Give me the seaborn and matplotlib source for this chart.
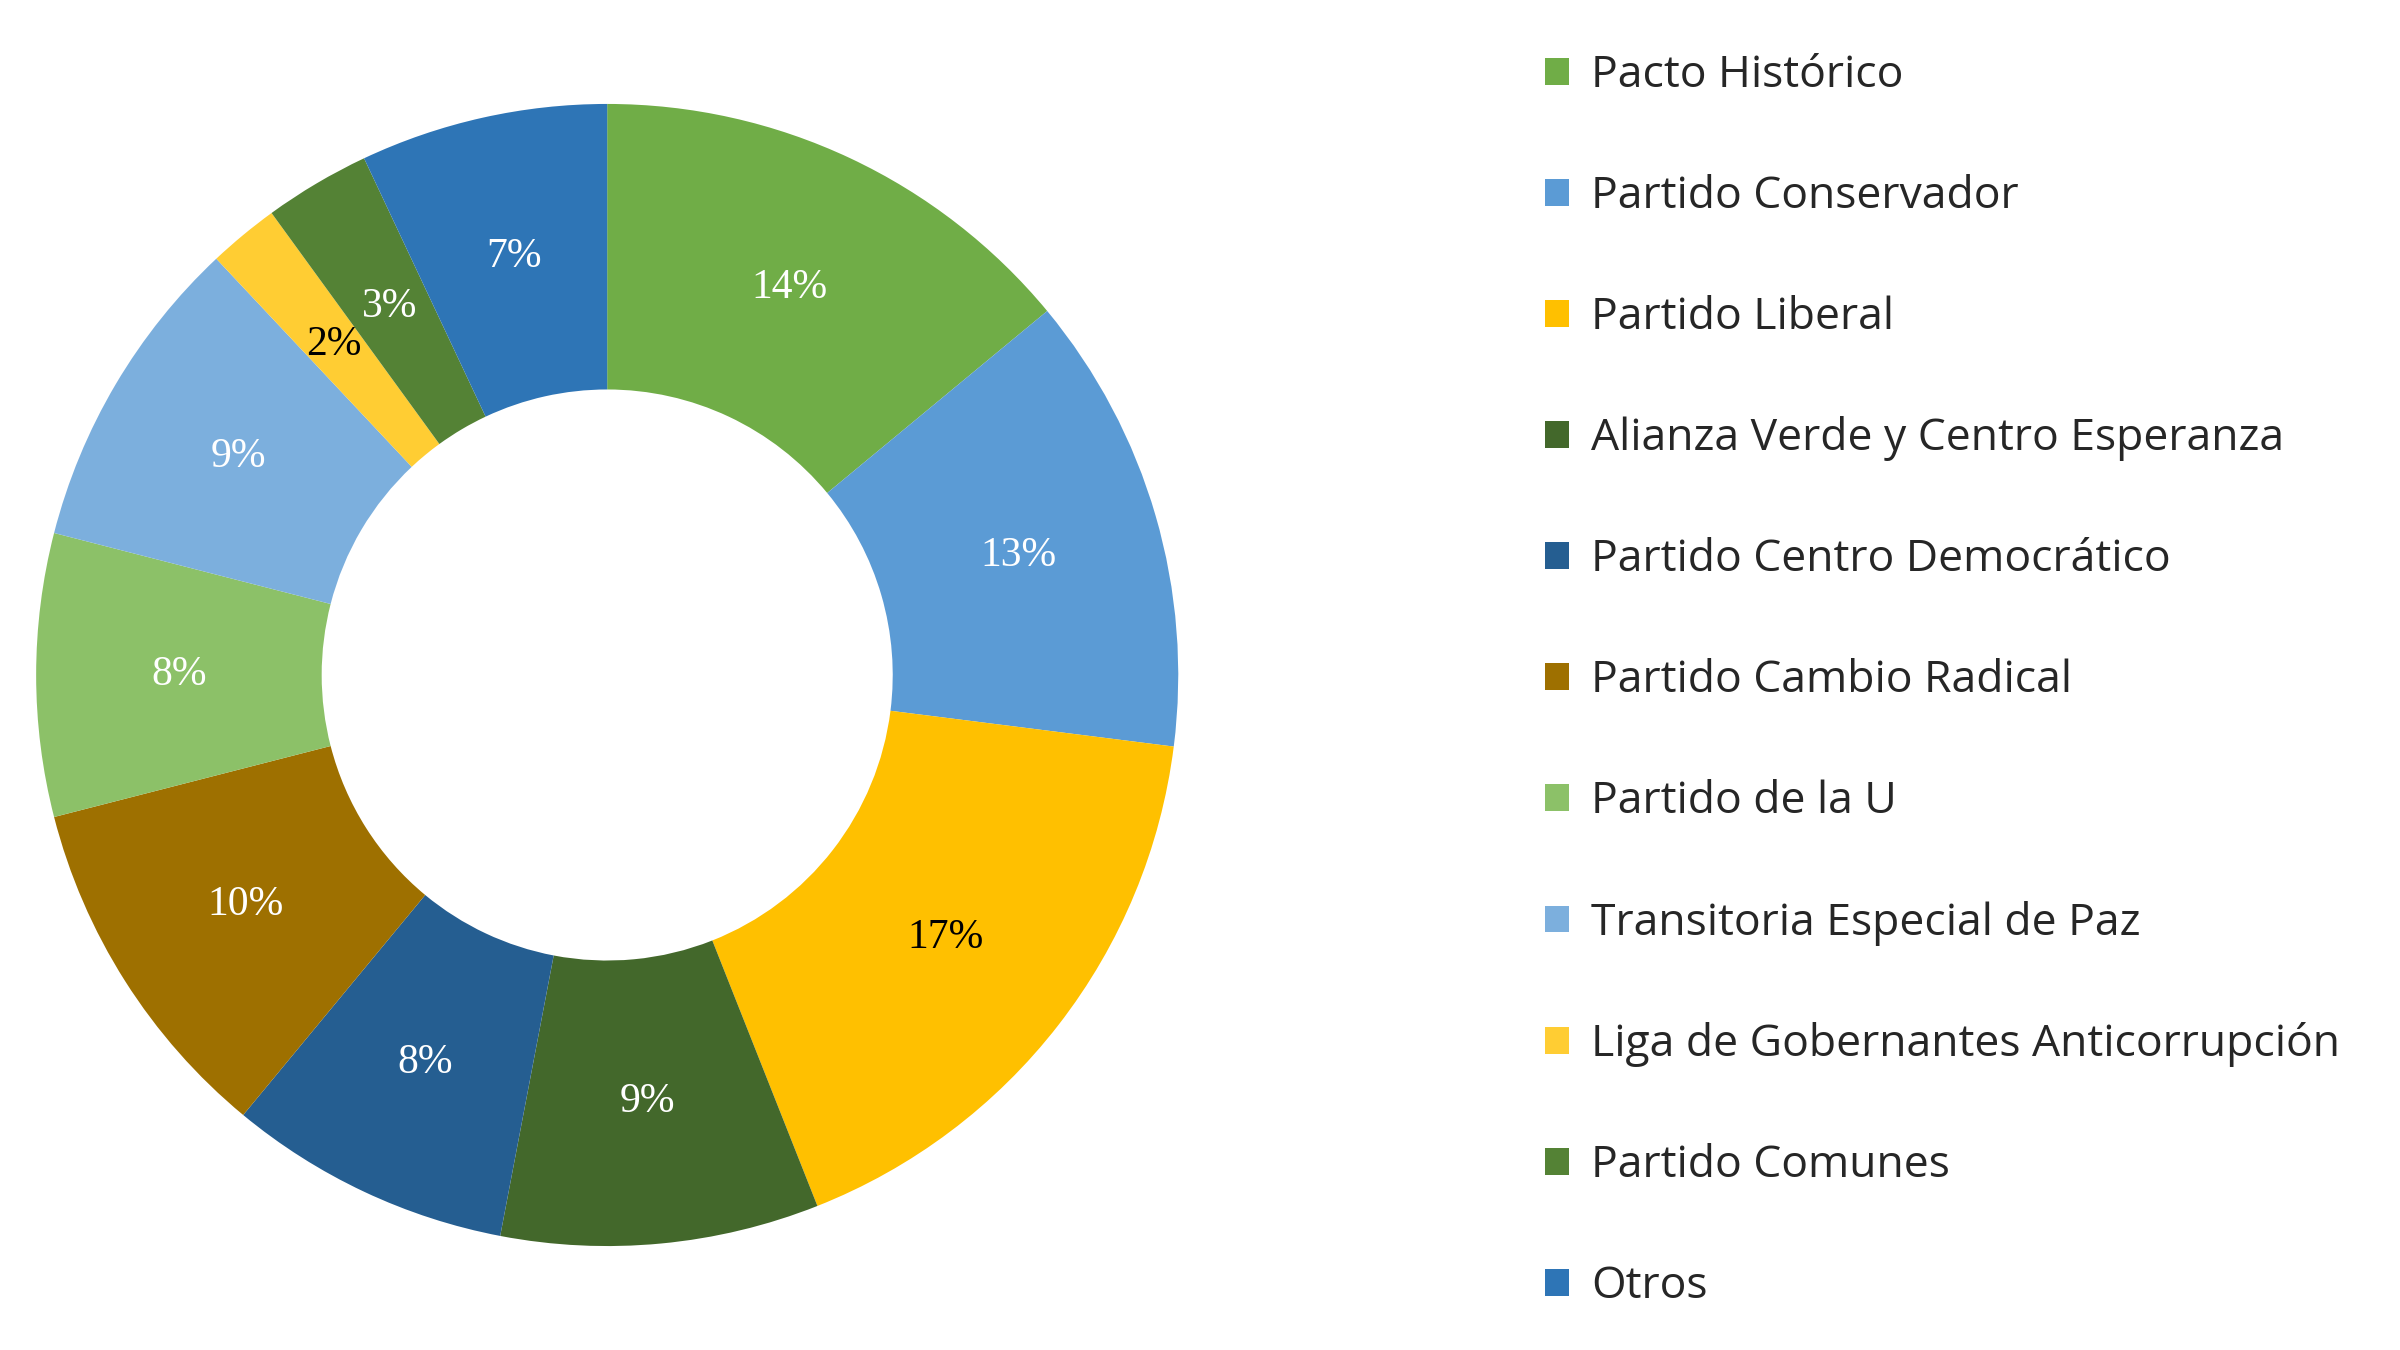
import matplotlib
matplotlib.use("Agg")
import matplotlib.pyplot as plt
import seaborn as sns

partidos = ["Pacto Histórico", "Partido Conservador", "Partido Liberal",
            "Alianza Verde y Centro Esperanza", "Partido Centro Democrático",
            "Partido Cambio Radical", "Partido de la U", "Transitoria Especial de Paz",
            "Liga de Gobernantes Anticorrupción", "Partido Comunes", "Otros"]
porcentajes = [14, 13, 17, 9, 8, 10, 8, 9, 2, 3, 7]
colores = ["#70AD47", "#5B9BD5", "#FFC000", "#43682B", "#255E91", "#9E7000",
           "#8CC168", "#7CAFDD", "#FFCD33", "#548235", "#2E75B6"]
color_texto = ["white", "white", "black", "white", "white", "white",
               "white", "white", "black", "white", "white"]

sns.set_style("white")
fig = plt.figure(figsize=(24, 13.5), dpi=100)
ax = fig.add_axes([0.015, 0.077, 0.476, 0.846])

wedges, texts, autotexts = ax.pie(
    porcentajes, colors=colores, startangle=90, counterclock=False,
    wedgeprops=dict(width=0.5, linewidth=0),
    autopct="%d%%", pctdistance=0.75,
    textprops=dict(family="Liberation Serif", fontsize=30))
for t, c in zip(autotexts, color_texto):
    t.set_color(c)
ax.set_xlim(-1, 1)
ax.set_ylim(-1, 1)
ax.set_aspect("equal")

fig.legend(wedges, partidos, loc="upper left", bbox_to_anchor=(0.627, 0.99),
           frameon=False, prop=dict(family="Open Sans", size=32),
           labelspacing=1.72, handlelength=0.55, handleheight=0.55, handletextpad=0.5)

fig.savefig("out.png", dpi=100, facecolor="white")
